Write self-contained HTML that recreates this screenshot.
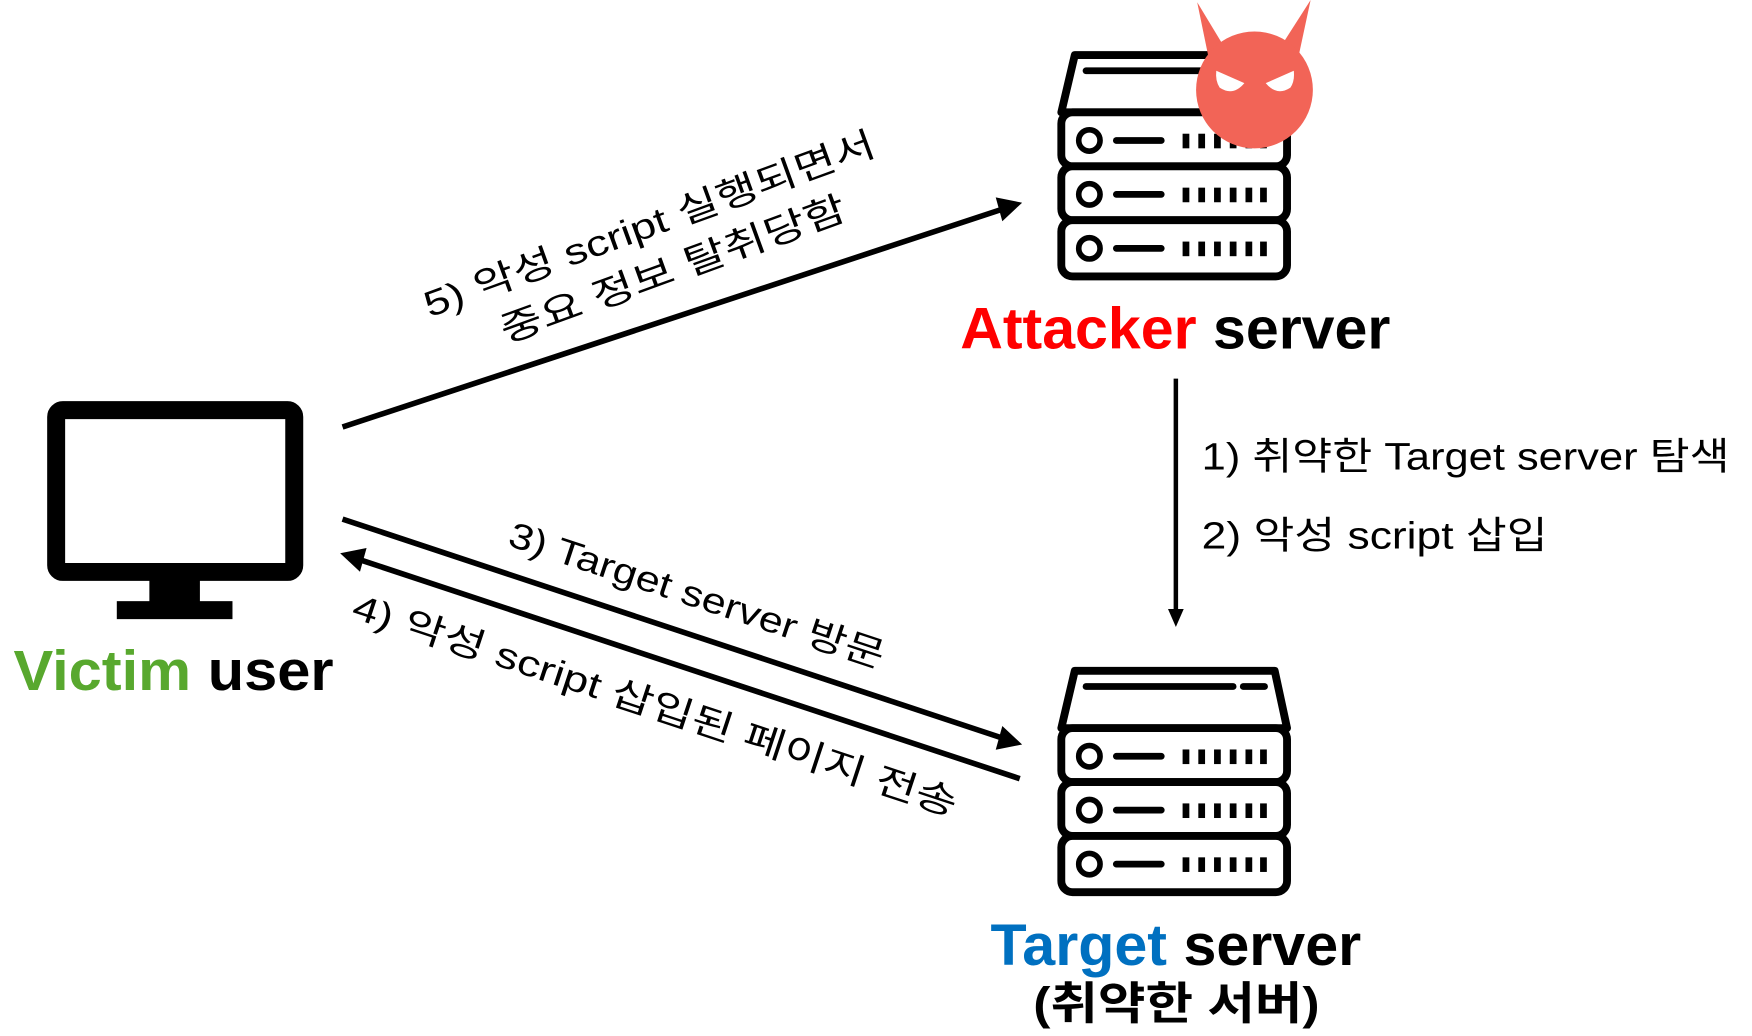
<!DOCTYPE html>
<html><head><meta charset="utf-8"><style>
html,body{margin:0;padding:0;background:#fff;}
svg{display:block;}
text{font-family:"Liberation Sans","Noto Sans CJK KR",sans-serif;}
</style></head><body>
<svg width="1752" height="1036" viewBox="0 0 1560 922" preserveAspectRatio="none" xmlns="http://www.w3.org/2000/svg">
<defs>
<marker id="ah" markerWidth="8" markerHeight="8" refX="7" refY="4" orient="auto" markerUnits="userSpaceOnUse" viewBox="0 0 8 8">
</marker>
<g id="srv">
  <path d="M957 49 L1135 49 L1146 100 L945 100 Z" fill="#fff" stroke="#000" stroke-width="7" stroke-linejoin="round"/>
  <rect x="945" y="100" width="201" height="48" rx="10" fill="#fff" stroke="#000" stroke-width="7"/>
  <rect x="945" y="148" width="201" height="48" rx="10" fill="#fff" stroke="#000" stroke-width="7"/>
  <rect x="945" y="196" width="201" height="50" rx="10" fill="#fff" stroke="#000" stroke-width="7"/>
  <g id="unit">
    <circle cx="970" cy="125" r="9.5" fill="none" stroke="#000" stroke-width="5"/>
    <line x1="994" y1="125" x2="1034" y2="125" stroke="#000" stroke-width="6" stroke-linecap="round"/>
    <g fill="#000">
      <rect x="1053" y="119" width="6" height="13"/><rect x="1067" y="119" width="6" height="13"/>
      <rect x="1081" y="119" width="6" height="13"/><rect x="1095" y="119" width="6" height="13"/>
      <rect x="1109" y="119" width="6" height="13"/><rect x="1122" y="119" width="6" height="13"/>
    </g>
  </g>
  <use href="#unit" y="48"/>
  <use href="#unit" y="96"/>
</g>
</defs>

<!-- Attacker server -->
<use href="#srv"/>
<line x1="967" y1="63" x2="1100" y2="63" stroke="#000" stroke-width="6" stroke-linecap="round"/>
<!-- devil -->
<g fill="#f26457">
  <path d="M1066 2 L1095 50 L1080 70 Z"/>
  <path d="M1167 0 L1135 50 L1152 70 Z"/>
  <circle cx="1117" cy="80" r="52"/>
</g>
<path d="M1083 63 L1108 74 Q1098 86 1086 78 Q1082 72 1083 63 Z" fill="#fff"/>
<path d="M1152 63 L1127 74 Q1137 86 1149 78 Q1153 72 1152 63 Z" fill="#fff"/>

<!-- Target server -->
<use href="#srv" y="548"/>
<line x1="967" y1="611" x2="1098" y2="611" stroke="#000" stroke-width="6" stroke-linecap="round"/>
<line x1="1107" y1="611" x2="1126" y2="611" stroke="#000" stroke-width="6" stroke-linecap="round"/>

<!-- Monitor -->
<rect x="50" y="365" width="212" height="144" rx="6" fill="#fff" stroke="#000" stroke-width="16"/>
<rect x="133" y="516" width="45" height="20" fill="#000"/>
<rect x="104" y="535" width="103" height="16" fill="#000"/>

<!-- labels -->
<text x="12" y="614" font-size="50" font-weight="bold" textLength="285" lengthAdjust="spacingAndGlyphs"><tspan fill="#58a82e">Victim</tspan> user</text>
<text x="855" y="310" font-size="52" font-weight="bold" textLength="383" lengthAdjust="spacingAndGlyphs"><tspan fill="#ff0000">Attacker</tspan> server</text>
<text x="882" y="859" font-size="52" font-weight="bold" textLength="330" lengthAdjust="spacingAndGlyphs"><tspan fill="#0070c0">Target</tspan> server</text>
<text x="920" y="907" font-size="40" font-weight="bold" textLength="255" lengthAdjust="spacingAndGlyphs">(취약한 서버)</text>

<text x="1070" y="418" font-size="34" textLength="470" lengthAdjust="spacingAndGlyphs">1) 취약한 Target server 탐색</text>
<text x="1070" y="488" font-size="34" textLength="308" lengthAdjust="spacingAndGlyphs">2) 악성 script 삽입</text>

<!-- arrows -->
<line x1="305" y1="380" x2="893" y2="186" stroke="#000" stroke-width="5"/>
<path d="M908 181 L888 177 L893 195 Z" fill="#000" stroke="#000" stroke-width="2"/>

<line x1="305" y1="462" x2="893" y2="657" stroke="#000" stroke-width="5"/>
<path d="M908 662 L893 648 L888 666 Z" fill="#000" stroke="#000" stroke-width="2"/>

<line x1="908" y1="693" x2="320" y2="498" stroke="#000" stroke-width="5"/>
<path d="M305 493 L320 507 L325 489 Z" fill="#000" stroke="#000" stroke-width="2"/>

<line x1="1047" y1="337" x2="1047" y2="545" stroke="#000" stroke-width="4"/>
<path d="M1047 558 L1040 542 L1054 542 Z" fill="#000"/>

<!-- rotated labels -->
<text transform="translate(582,210) rotate(-20)" text-anchor="middle" font-size="32" textLength="425" lengthAdjust="spacingAndGlyphs">5) 악성 script 실행되면서</text>
<text transform="translate(603,250) rotate(-20)" text-anchor="middle" font-size="32" textLength="325" lengthAdjust="spacingAndGlyphs">중요 정보 탈취당함</text>
<text transform="translate(617,540) rotate(18.3)" text-anchor="middle" font-size="32" textLength="350" lengthAdjust="spacingAndGlyphs">3) Target server 방문</text>
<text transform="translate(580,638) rotate(18.3)" text-anchor="middle" font-size="32" textLength="565" lengthAdjust="spacingAndGlyphs">4) 악성 script 삽입된 페이지 전송</text>
</svg>
</body></html>
